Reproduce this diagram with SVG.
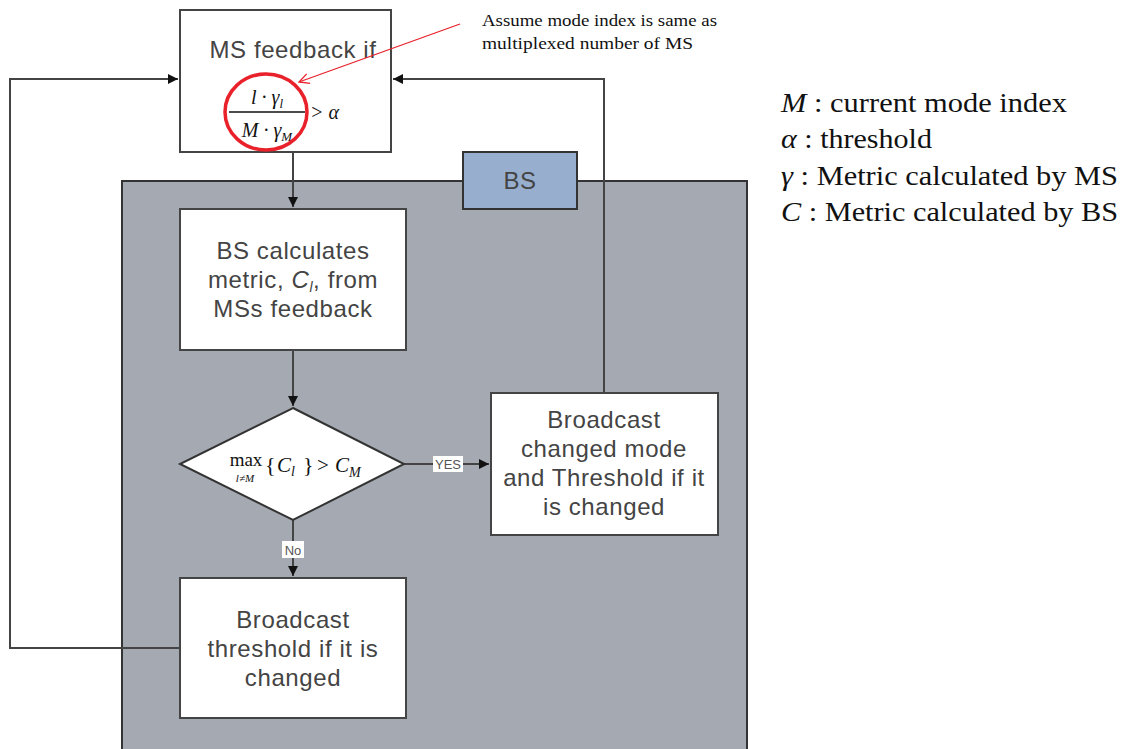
<svg xmlns="http://www.w3.org/2000/svg" width="1125" height="749" viewBox="0 0 1125 749">
<defs>
<marker id="ah" viewBox="0 0 10 10" refX="10" refY="5" markerWidth="5" markerHeight="5" orient="auto" markerUnits="strokeWidth"><path d="M0,0 L10,5 L0,10 z" fill="#111"/></marker>
<marker id="rah" viewBox="0 0 12 12" refX="11" refY="6" markerWidth="12" markerHeight="12" orient="auto" markerUnits="userSpaceOnUse"><path d="M1,1 L11,6 L1,11" fill="none" stroke="#e8212a" stroke-width="1.3"/></marker>
<style>
.box{fill:#fff;stroke:#444;stroke-width:2}
.t{font-family:"Liberation Sans",Arial,sans-serif;font-size:24px;letter-spacing:0.6px;fill:#444;text-anchor:middle}
.m{font-family:"Liberation Serif","Times New Roman",serif;font-style:italic;fill:#111}
.s{font-family:"Liberation Serif","Times New Roman",serif;fill:#111}
.c{fill:none;stroke:#444;stroke-width:2}
.lbl{font-family:"Liberation Sans",Arial,sans-serif;font-size:13px;fill:#555;text-anchor:middle}
</style>
</defs>
<rect width="1125" height="749" fill="#fff"/>
<g id="bs-container">
<rect x="122" y="181" width="625" height="580" fill="#a4a9b2" stroke="#333" stroke-width="2"/>
</g>
<g id="bs-tab">
<rect x="463" y="152" width="114" height="57" fill="#97aecf" stroke="#333" stroke-width="2"/>
<text x="520" y="189" class="t" fill="#333">BS</text>
</g>
<g id="connectors">
<path class="c" d="M293,152 V207" marker-end="url(#ah)"/>
<path class="c" d="M293,350 V406" marker-end="url(#ah)"/>
<path class="c" d="M404,464 H489" marker-end="url(#ah)"/>
<path class="c" d="M293,520 V576" marker-end="url(#ah)"/>
<path class="c" d="M180,648 H10 V79 H178" marker-end="url(#ah)"/>
<path class="c" d="M604,393 V79 H393" marker-end="url(#ah)"/>
<rect x="433" y="456" width="30" height="16" fill="#fff"/>
<text x="448" y="469" class="lbl">YES</text>
<rect x="282" y="541" width="22" height="17" fill="#fff"/>
<text x="293" y="555" class="lbl">No</text>
</g>
<g id="ms-feedback">
<rect class="box" x="180" y="10" width="211" height="142"/>
<text x="293" y="58" class="t" fill="#555">MS feedback if</text>
<text x="267" y="104" class="m" font-size="20" text-anchor="middle">l · γ<tspan font-size="13" dy="4">l</tspan></text>
<line x1="229" y1="112" x2="305" y2="112" stroke="#111" stroke-width="1.5"/>
<text x="267" y="137" class="m" font-size="20" text-anchor="middle">M · γ<tspan font-size="13" dy="4">M</tspan></text>
<text x="310" y="119" class="m" font-size="20">&gt; α</text>
<ellipse cx="266" cy="112" rx="41" ry="38" fill="none" stroke="#e8212a" stroke-width="3.5"/>
</g>
<g id="annotation">
<line x1="460" y1="24" x2="299" y2="82" stroke="#e8212a" stroke-width="1.3" marker-end="url(#rah)"/>
<text x="482" y="26" class="s" font-size="17" textLength="235" lengthAdjust="spacingAndGlyphs">Assume mode index is same as</text>
<text x="482" y="49" class="s" font-size="17" textLength="211" lengthAdjust="spacingAndGlyphs">multiplexed number of MS</text>
</g>
<g id="bs-calc">
<rect class="box" x="180" y="209" width="226" height="141"/>
<text x="293" y="259" class="t">BS calculates</text>
<text x="293" y="288" class="t">metric, <tspan font-style="italic">C<tspan font-size="14" dy="4">l</tspan></tspan><tspan dy="-4">, from</tspan></text>
<text x="293" y="317" class="t">MSs feedback</text>
</g>
<g id="decision">
<polygon points="293,408 404,464 293,520 180,464" fill="#fff" stroke="#333" stroke-width="2"/>
<text x="246" y="466" class="s" font-size="19" text-anchor="middle">max</text>
<text x="245" y="482" class="m" font-size="11" text-anchor="middle">l≠M</text>
<text x="265" y="472" class="s" font-size="22" fill="#888">{</text>
<text x="277" y="472" class="m" font-size="21">C<tspan font-size="14" dy="4">l</tspan></text>
<text x="303" y="472" class="s" font-size="22" fill="#888">}</text>
<text x="317" y="472" class="s" font-size="21">&gt;</text>
<text x="335" y="472" class="m" font-size="21">C<tspan font-size="14" dy="5">M</tspan></text>
</g>
<g id="broadcast-mode">
<rect class="box" x="491" y="393" width="227" height="142"/>
<text x="604" y="428" class="t">Broadcast</text>
<text x="604" y="457" class="t">changed mode</text>
<text x="604" y="486" class="t">and Threshold if it</text>
<text x="604" y="515" class="t">is changed</text>
</g>
<g id="broadcast-threshold">
<rect class="box" x="180" y="578" width="226" height="140"/>
<text x="293" y="628" class="t">Broadcast</text>
<text x="293" y="657" class="t">threshold if it is</text>
<text x="293" y="686" class="t">changed</text>
</g>
<g id="legend" class="s" font-size="28">
<text x="781" y="112" textLength="286" lengthAdjust="spacingAndGlyphs"><tspan font-style="italic">M</tspan> : current mode index</text>
<text x="781" y="148" textLength="151" lengthAdjust="spacingAndGlyphs"><tspan font-style="italic">α</tspan> : threshold</text>
<text x="781" y="185" textLength="337" lengthAdjust="spacingAndGlyphs"><tspan font-style="italic">γ</tspan> : Metric calculated by MS</text>
<text x="781" y="221" textLength="337" lengthAdjust="spacingAndGlyphs"><tspan font-style="italic">C</tspan> : Metric calculated by BS</text>
</g>
</svg>
